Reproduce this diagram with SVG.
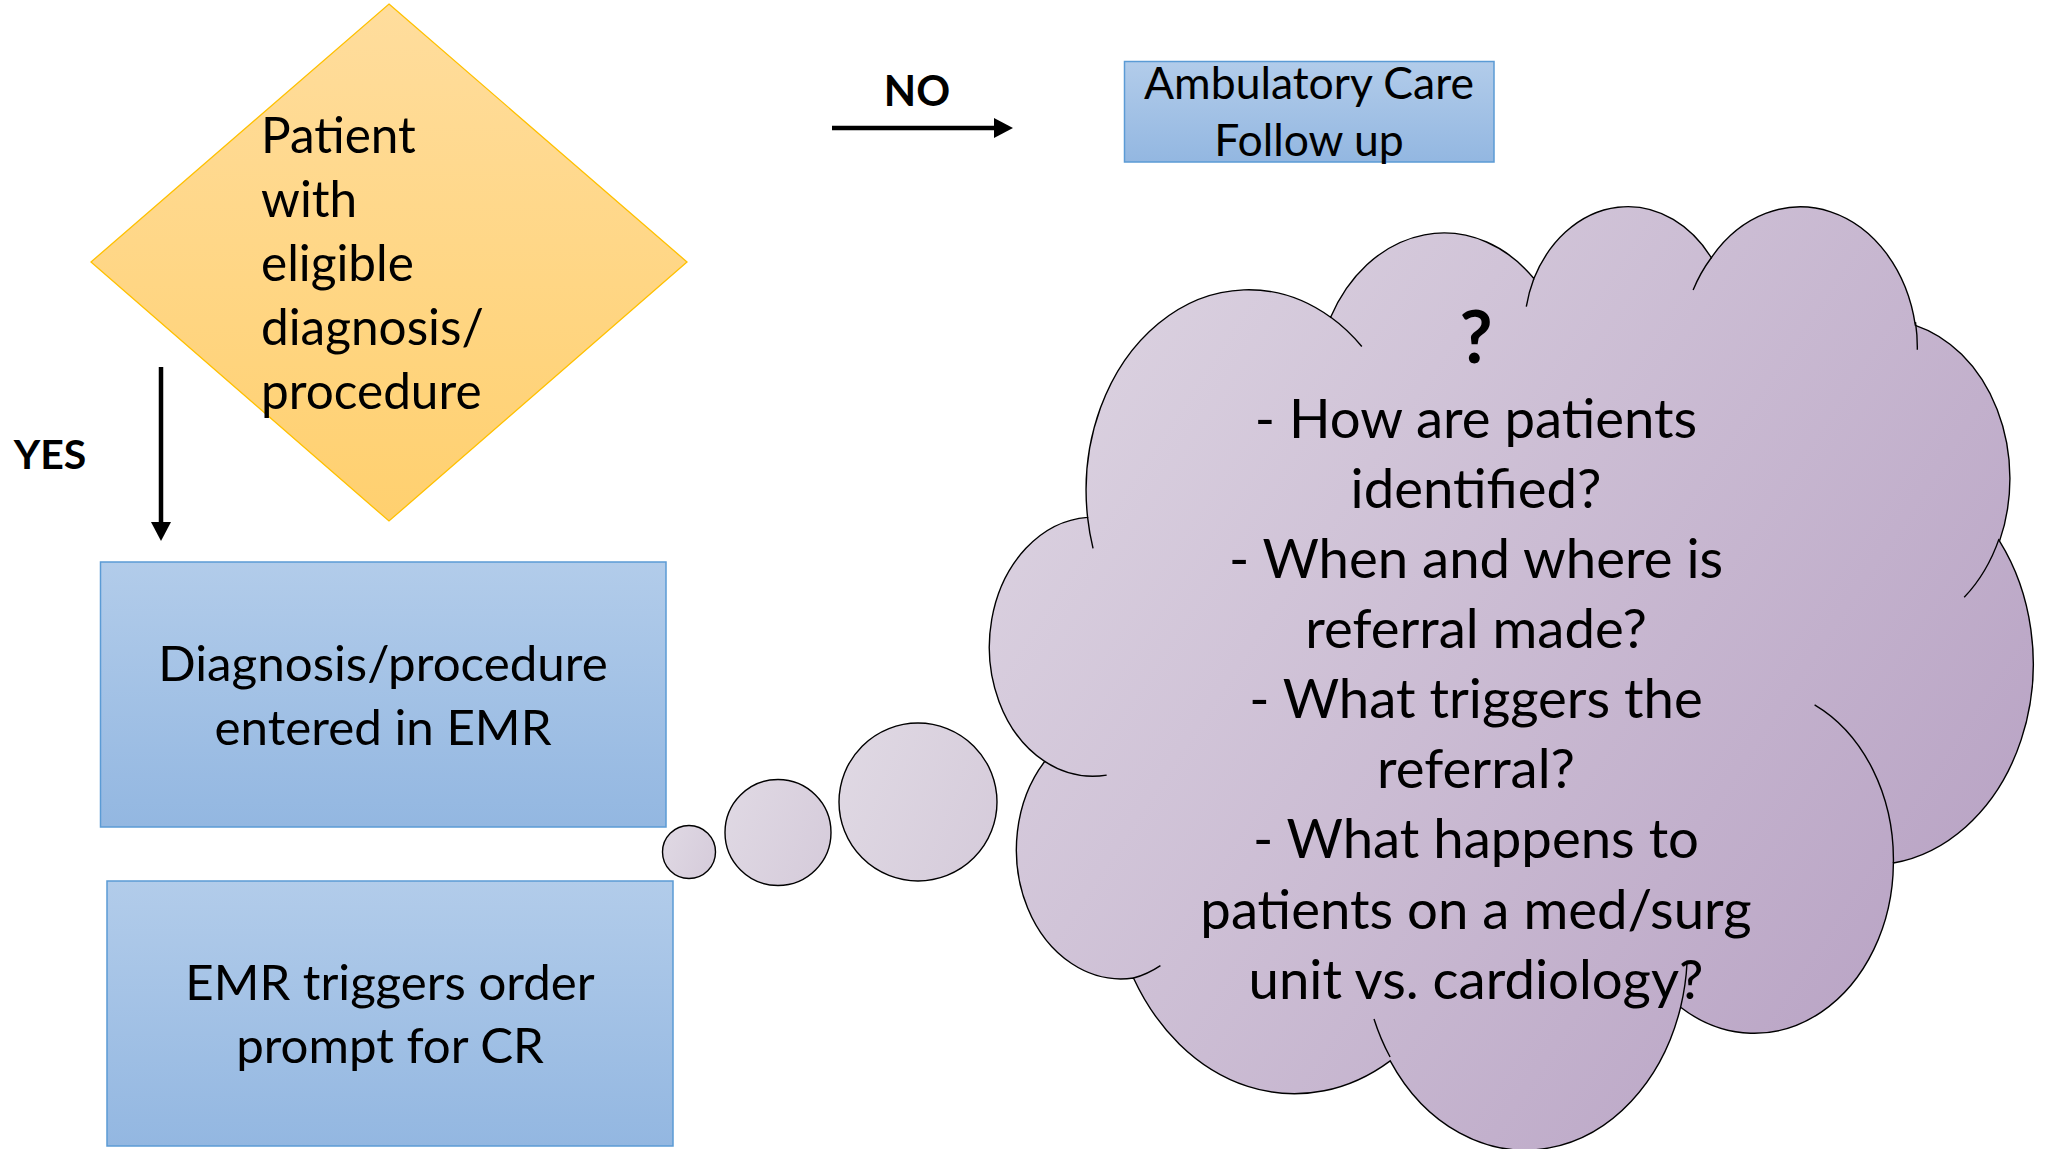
<svg xmlns="http://www.w3.org/2000/svg" width="2049" height="1149" viewBox="0 0 2049 1149">
  <defs>
    <style>
      .label { font-family: Lato, "Liberation Sans", sans-serif; fill: #000; }
      .bold { font-family: Lato, "Liberation Sans", sans-serif; font-weight: 700; fill: #000; }
      .box { fill: url(#blueFill); stroke: #5B9BD5; stroke-width: 1.5; }
      .outline { stroke: #000; stroke-width: 1.4; }
      .wire { stroke: #000; stroke-width: 4.5; fill: none; }
    </style>
    <linearGradient id="goldFill" x1="0" y1="0" x2="0" y2="1">
      <stop offset="0" stop-color="#FFDD9D"/>
      <stop offset="1" stop-color="#FFD06F"/>
    </linearGradient>
    <linearGradient id="blueFill" x1="0" y1="0" x2="0" y2="1">
      <stop offset="0" stop-color="#B2CCEA"/>
      <stop offset="1" stop-color="#93B7E1"/>
    </linearGradient>
    <linearGradient id="cloudFill" x1="0" y1="0.2" x2="1" y2="0.8">
      <stop offset="0" stop-color="#DCD3E1"/>
      <stop offset="1" stop-color="#B7A1C3"/>
    </linearGradient>
    <linearGradient id="bubbleFill" x1="0" y1="0.3" x2="1" y2="0.7">
      <stop offset="0" stop-color="#DFD8E3"/>
      <stop offset="1" stop-color="#D6CCDB"/>
    </linearGradient>
    <marker id="arrowHead" markerUnits="userSpaceOnUse" markerWidth="19" markerHeight="20" refX="5" refY="10" orient="auto">
      <path d="M0,0 L19,10 L0,20 Z" fill="#000"/>
    </marker>
  </defs>

  <rect width="2049" height="1149" fill="#FFFFFF"/>

  <!-- decision -->
  <g id="node-decision">
    <polygon points="389,4 687,262 389,521 91,262" fill="url(#goldFill)" stroke="#FFC000" stroke-width="1.3"/>
    <g class="label" font-size="49.5">
      <text x="261" y="153">Patient</text>
      <text x="261" y="217">with</text>
      <text x="261" y="281">eligible</text>
      <text x="261" y="345">diagnosis/</text>
      <text x="261" y="409">procedure</text>
    </g>
  </g>

  <!-- ambulatory follow-up -->
  <g id="node-ambulatory">
    <rect class="box" x="1124.5" y="61.5" width="369.5" height="100.5"/>
    <g class="label" font-size="44.5" text-anchor="middle">
      <text x="1309" y="99">Ambulatory Care</text>
      <text x="1309" y="156">Follow up</text>
    </g>
  </g>

  <!-- EMR entry -->
  <g id="node-emr-entry">
    <rect class="box" x="100.5" y="562" width="565.5" height="265"/>
    <g class="label" font-size="49.3" text-anchor="middle">
      <text x="383" y="681">Diagnosis/procedure</text>
      <text x="383" y="745">entered in EMR</text>
    </g>
  </g>

  <!-- EMR prompt -->
  <g id="node-emr-prompt">
    <rect class="box" x="107" y="881" width="566" height="265"/>
    <g class="label" font-size="49.2" text-anchor="middle">
      <text x="390" y="1000">EMR triggers order</text>
      <text x="390" y="1063">prompt for CR</text>
    </g>
  </g>

  <!-- thought cloud with its trailing bubbles -->
  <g id="node-questions">
    <circle class="outline" cx="689" cy="852" r="26.5" fill="url(#bubbleFill)"/>
    <circle class="outline" cx="778" cy="832.5" r="53" fill="url(#bubbleFill)"/>
    <circle class="outline" cx="918" cy="802" r="79" fill="url(#bubbleFill)"/>
    <g transform="translate(993.8,203.7) scale(0.02405,0.02183)">
      <path class="outline" vector-effect="non-scaling-stroke" fill="url(#cloudFill)"
        d="M3900,14370 A6753,9190 0 0 1 14005,5202 A5333,7267 0 0 1 22457,3429 A4365,5945 0 0 1 29834,2476 A4857,6595 0 0 1 38318,5572 A5333,7273 0 0 1 41819,15456 A6775,9220 0 0 1 37405,30199 A5785,7867 0 0 1 28557,36809 A6752,9215 0 0 1 16483,39264 A7720,10543 0 0 1 5807,35471 A4360,5918 0 0 1 2115,25550 A4345,5945 0 0 1 3900,14370 Z"/>
      <path class="outline" vector-effect="non-scaling-stroke" fill="none"
        d="M4693,26177 A4345,5945 0 0 1 2115,25550 M6928,34899 A4360,5918 0 0 1 5807,35471 M16478,39090 A6752,9215 0 0 1 15809,37346 M28827,34751 A6752,9215 0 0 1 28557,36809 M34129,22954 A5785,7867 0 0 1 37405,30199 M41798,15354 A5333,7273 0 0 1 40349,18032 M38324,5426 A4857,6595 0 0 1 38400,6690 M29078,3952 A4857,6595 0 0 1 29834,2476 M22141,4720 A4365,5945 0 0 1 22457,3429 M14000,5192 A6753,9190 0 0 1 15302,6543 M4127,15789 A6753,9190 0 0 1 3900,14370"/>
    </g>
    <text class="bold" x="1476" y="363" font-size="72" text-anchor="middle">?</text>
    <g class="label" font-size="54.5" text-anchor="middle">
      <text x="1476" y="438">- How are patients</text>
      <text x="1476" y="508">identified?</text>
      <text x="1476" y="578">- When and where is</text>
      <text x="1476" y="648">referral made?</text>
      <text x="1476" y="718">- What triggers the</text>
      <text x="1476" y="788">referral?</text>
      <text x="1476" y="858">- What happens to</text>
      <text x="1476" y="929">patients on a med/surg</text>
      <text x="1476" y="999">unit vs. cardiology?</text>
    </g>
  </g>

  <!-- connectors -->
  <g id="connectors">
    <line class="wire" x1="832" y1="128" x2="999" y2="128" marker-end="url(#arrowHead)"/>
    <text class="bold" x="917" y="106" font-size="42" text-anchor="middle">NO</text>
    <line class="wire" x1="161" y1="367" x2="161" y2="527" marker-end="url(#arrowHead)"/>
    <text class="bold" x="50" y="469" font-size="41" text-anchor="middle">YES</text>
  </g>
</svg>
